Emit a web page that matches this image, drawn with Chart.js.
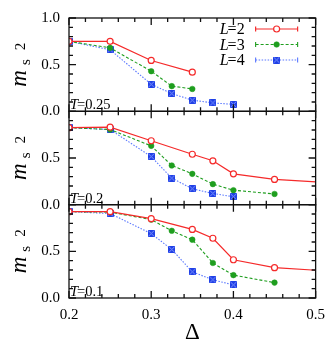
<!DOCTYPE html>
<html>
<head>
<meta charset="utf-8">
<script src="https://cdn.jsdelivr.net/npm/chart.js@4.4.0/dist/chart.umd.min.js"></script>
<style>
html, body { margin: 0; padding: 0; background: #fff; }
#wrap { position: relative; width: 333px; height: 341px; }
</style>
</head>
<body>
<div id="wrap"><canvas id="myChart" width="333" height="341"></canvas></div>
<script>
// panels from top to bottom
const panelTemps = ['0.25', '0.2', '0.1'];
const panelIds = ['yT025', 'yT02', 'yT01'];
const sizeLabels = ['2', '3', '4'];
const xTickLabels = ['0.2', '0.3', '0.4', '0.5'];
const yTickLabels = ['0.0', '0.5', '1.0'];

// T = 0.25
const deltaL2_T025 = [0.2, 0.25, 0.3, 0.35];
const m2L2_T025 = [0.75, 0.75, 0.545, 0.42];
const deltaL3_T025 = [0.2, 0.25, 0.3, 0.325, 0.35];
const m2L3_T025 = [0.75, 0.68, 0.43, 0.27, 0.24];
const deltaL4_T025 = [0.2, 0.25, 0.3, 0.325, 0.35, 0.375, 0.4];
const m2L4_T025 = [0.75, 0.66, 0.29, 0.19, 0.12, 0.09, 0.075];

// T = 0.2
const deltaL2_T02 = [0.2, 0.25, 0.3, 0.35, 0.375, 0.4, 0.45, 0.55];
const m2L2_T02 = [0.825, 0.83, 0.685, 0.54, 0.47, 0.33, 0.27, 0.218];
const deltaL3_T02 = [0.2, 0.25, 0.3, 0.325, 0.35, 0.375, 0.4, 0.45];
const m2L3_T02 = [0.825, 0.805, 0.63, 0.42, 0.33, 0.22, 0.155, 0.115];
const deltaL4_T02 = [0.2, 0.25, 0.3, 0.325, 0.35, 0.375, 0.4];
const m2L4_T02 = [0.825, 0.805, 0.515, 0.285, 0.17, 0.12, 0.085];

// T = 0.1
const deltaL2_T01 = [0.2, 0.25, 0.3, 0.35, 0.375, 0.4, 0.45, 0.55];
const m2L2_T01 = [0.925, 0.925, 0.85, 0.735, 0.64, 0.41, 0.325, 0.27];
const deltaL3_T01 = [0.2, 0.25, 0.3, 0.325, 0.35, 0.375, 0.4, 0.45];
const m2L3_T01 = [0.925, 0.92, 0.84, 0.72, 0.625, 0.375, 0.245, 0.165];
const deltaL4_T01 = [0.2, 0.25, 0.3, 0.325, 0.35, 0.375, 0.4];
const m2L4_T01 = [0.925, 0.905, 0.69, 0.52, 0.28, 0.195, 0.14];

const SERIF = "'Liberation Serif', 'DejaVu Serif', serif";
const red = '#f52a2a', green = '#1f9e1f', blue = '#3556f2';

// blue square marker with a light cross
const sqMarker = document.createElement('canvas');
sqMarker.width = 7; sqMarker.height = 7;
(function () {
    var c = sqMarker.getContext('2d');
    c.fillStyle = '#2040e6';
    c.fillRect(0, 0, 7, 7);
    c.strokeStyle = '#7f95ff';
    c.lineWidth = 1;
    c.beginPath();
    c.moveTo(0.5, 0.5); c.lineTo(6.5, 6.5);
    c.moveTo(6.5, 0.5); c.lineTo(0.5, 6.5);
    c.stroke();
})();

const toPts = (xs, ys) => xs.map((x, i) => ({ x: x, y: ys[i] }));

const styleL2 = { borderColor: red, backgroundColor: '#fff', pointBorderColor: red, pointBackgroundColor: '#fff',
    pointStyle: 'circle', pointRadius: 3, pointBorderWidth: 1.2, borderWidth: 1.2 };
const styleL3 = { borderColor: green, backgroundColor: green, pointBorderColor: green, pointBackgroundColor: green,
    pointStyle: 'circle', pointRadius: 2.8, pointBorderWidth: 0.5, borderWidth: 1.1, borderDash: [3, 2] };
const styleL4 = { borderColor: '#5a78ff', backgroundColor: blue, pointBorderColor: blue, pointBackgroundColor: blue,
    pointStyle: sqMarker, pointRadius: 3.5, borderWidth: 1.1, borderDash: [1.5, 1.5] };

const series = [
    [toPts(deltaL2_T025, m2L2_T025), toPts(deltaL3_T025, m2L3_T025), toPts(deltaL4_T025, m2L4_T025)],
    [toPts(deltaL2_T02, m2L2_T02), toPts(deltaL3_T02, m2L3_T02), toPts(deltaL4_T02, m2L4_T02)],
    [toPts(deltaL2_T01, m2L2_T01), toPts(deltaL3_T01, m2L3_T01), toPts(deltaL4_T01, m2L4_T01)]
];
const styles = [styleL2, styleL3, styleL4];

var datasets = [];
series.forEach(function (panel, p) {
    panel.forEach(function (pts, k) {
        datasets.push(Object.assign({
            label: 'L=' + sizeLabels[k],
            data: pts,
            yAxisID: panelIds[p],
            tension: 0,
            fill: false
        }, styles[k]));
    });
});

// frames and inward ticks for every panel
const framePlugin = {
    id: 'frames',
    afterDatasetsDraw(chart) {
        const ctx = chart.ctx, xs = chart.scales.x;
        const left = chart.chartArea.left, right = chart.chartArea.right;
        ctx.save();
        ctx.strokeStyle = '#111';
        ctx.lineWidth = 1.3;
        panelIds.forEach(function (id) {
            const ys = chart.scales[id];
            const top = ys.getPixelForValue(1), bottom = ys.getPixelForValue(0);
            ctx.strokeRect(left, top, right - left, bottom - top);
            ctx.beginPath();
            for (var i = 0; i <= 15; i++) {
                var px = xs.getPixelForValue(0.2 + i * 0.02);
                var len = i % 5 === 0 ? 7 : 4;
                ctx.moveTo(px, bottom); ctx.lineTo(px, bottom - len);
                ctx.moveTo(px, top); ctx.lineTo(px, top + len);
            }
            for (var j = 0; j <= 10; j++) {
                var py = ys.getPixelForValue(j / 10);
                var l2 = j % 5 === 0 ? 7 : 4;
                ctx.moveTo(left, py); ctx.lineTo(left + l2, py);
                ctx.moveTo(right, py); ctx.lineTo(right - l2, py);
            }
            ctx.stroke();
        });
        ctx.restore();
    },
    afterDraw(chart) {
        const ctx = chart.ctx;
        const left = chart.chartArea.left, right = chart.chartArea.right;
        ctx.save();
        ctx.fillStyle = '#000';
        // panel labels T=...
        panelIds.forEach(function (id, p) {
            const ys = chart.scales[id];
            const bottom = ys.getPixelForValue(0);
            ctx.textBaseline = 'alphabetic';
            ctx.textAlign = 'left';
            ctx.font = 'italic 14.5px ' + SERIF;
            ctx.fillText('T', left + 1, bottom - 2);
            var w = ctx.measureText('T').width;
            ctx.font = '14.5px ' + SERIF;
            ctx.fillText('=' + panelTemps[p], left + 1 + w - 1, bottom - 2);

            // y title m_s^2
            const cy = (ys.getPixelForValue(0) + ys.getPixelForValue(1)) / 2;
            ctx.save();
            ctx.translate(26, cy);
            ctx.rotate(-Math.PI / 2);
            ctx.font = 'italic 23px ' + SERIF;
            var wm = ctx.measureText('m').width;
            ctx.font = '15px ' + SERIF;
            var ws = ctx.measureText('s').width, w2 = ctx.measureText('2').width;
            var t0 = -(wm + ws + w2 + 14) / 2;
            ctx.font = 'italic 23px ' + SERIF;
            ctx.fillText('m', t0, 0);
            ctx.font = '15px ' + SERIF;
            ctx.fillText('s', t0 + wm + 5, 4);
            ctx.fillText('2', t0 + wm + ws + 14, -1);
            ctx.restore();
        });

        // legend in the top panel
        const topScale = chart.scales[panelIds[0]];
        const top = topScale.getPixelForValue(1);
        for (var k = 0; k < 3; k++) {
            const ds = chart.data.datasets[k];
            const y = top + 11 + k * 15.5;
            ctx.font = '16px ' + SERIF;
            ctx.textAlign = 'right';
            ctx.textBaseline = 'middle';
            var tail = '=' + sizeLabels[k];
            var tw = ctx.measureText(tail).width;
            ctx.fillText(tail, right - 71, y + 1);
            ctx.font = 'italic 16px ' + SERIF;
            ctx.fillText('L', right - 71 - tw + 1, y + 1);
            // sample line with error bar caps
            const x0 = right - 60, x1 = right - 18;
            ctx.strokeStyle = ds.borderColor;
            ctx.lineWidth = ds.borderWidth;
            ctx.setLineDash(ds.borderDash || []);
            ctx.beginPath();
            ctx.moveTo(x0, y); ctx.lineTo(x1, y);
            ctx.stroke();
            ctx.setLineDash([]);
            ctx.beginPath();
            ctx.moveTo(x0, y - 2.5); ctx.lineTo(x0, y + 2.5);
            ctx.moveTo(x1, y - 2.5); ctx.lineTo(x1, y + 2.5);
            ctx.stroke();
            const xm = (x0 + x1) / 2;
            if (ds.pointStyle === 'circle') {
                ctx.beginPath();
                ctx.arc(xm, y, ds.pointRadius, 0, Math.PI * 2);
                ctx.fillStyle = ds.pointBackgroundColor;
                ctx.fill();
                ctx.strokeStyle = ds.pointBorderColor;
                ctx.lineWidth = ds.pointBorderWidth;
                ctx.stroke();
            } else {
                ctx.drawImage(sqMarker, xm - 3.5, y - 3.5);
            }
            ctx.fillStyle = '#000';
        }
        ctx.restore();
    }
};

const yScale = (p) => ({
    type: 'linear',
    position: 'left',
    stack: 'panels',
    stackWeight: 1,
    min: 0,
    max: 1,
    grid: { display: false, drawTicks: false },
    border: { display: false },
    ticks: {
        stepSize: 0.5,
        padding: 9,
        color: '#000',
        font: { family: SERIF, size: 15 },
        callback: function (v) {
            var idx = Math.round(v * 2);
            if (idx === 2 && p !== 0) return '';
            return yTickLabels[idx];
        }
    },
    afterFit: function (s) { s.width = 69; }
});

var scales = {
    x: {
        type: 'linear',
        position: 'bottom',
        min: 0.2,
        max: 0.5,
        grid: { display: false, drawTicks: false },
        border: { display: false },
        ticks: {
            stepSize: 0.1,
            padding: 8,
            maxRotation: 0,
            color: '#000',
            font: { family: SERIF, size: 15 },
            callback: function (v) { return xTickLabels[Math.round((v - 0.2) * 10)]; }
        },
        title: { display: true, text: 'Δ', color: '#000', font: { family: SERIF, size: 23, lineHeight: 1 }, padding: { top: 2, bottom: -3 } },
        afterFit: function (s) { s.height = 43; }
    }
};
// bottom panel first in the stack
scales[panelIds[2]] = yScale(2);
scales[panelIds[1]] = yScale(1);
scales[panelIds[0]] = yScale(0);

new Chart('myChart', {
    type: 'line',
    data: { datasets: datasets },
    options: {
        responsive: false,
        devicePixelRatio: 1,
        animation: false,
        layout: { padding: { top: 7, right: 12, left: 0, bottom: 0 } },
        plugins: { legend: { display: false }, tooltip: { enabled: false } },
        scales: scales
    },
    plugins: [framePlugin]
});
</script>
</body>
</html>
